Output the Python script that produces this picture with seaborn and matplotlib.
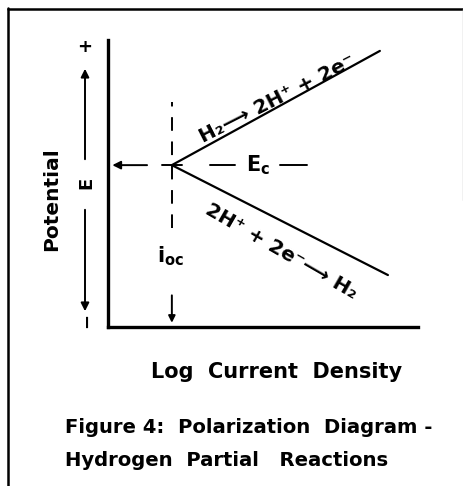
import numpy as np
import pandas as pd
import matplotlib
matplotlib.use("Agg")
import matplotlib.pyplot as plt
import seaborn as sns

# Polarization diagram values (arbitrary log current / potential units)
log_i_oc = 2.06
E_c = 5.64
anodic_log_i = [log_i_oc, 8.77]
anodic_E = [E_c, 9.62]
cathodic_log_i = [log_i_oc, 9.03]
cathodic_E = [E_c, 1.81]

anodic_label = "H₂⟶ 2H⁺ + 2e⁻"
cathodic_label = "2H⁺ + 2e⁻⟶ H₂"
x_title = "Log  Current  Density"
y_title = "Potential"
caption = ["Figure 4:  Polarization  Diagram -", "Hydrogen  Partial   Reactions"]

sns.set_style("white")
plt.rcParams["font.family"] = ["DejaVu Sans"]
plt.rcParams["mathtext.fontset"] = "dejavusans"
plt.rcParams["text.color"] = "black"

W, H = 464, 486
fig = plt.figure(figsize=(W / 100, H / 100), dpi=100)
fig.patch.set_facecolor("white")

# main plot area in pixel box: x 108..418, y 40..327
ax = fig.add_axes([108 / W, 1 - 327 / H, 310 / W, 287 / H])
ax.set_xlim(0, 10)
ax.set_ylim(0, 10)
ax.patch.set_alpha(0)

df = pd.concat([
    pd.DataFrame({"log_i": anodic_log_i, "E": anodic_E, "branch": "anodic"}),
    pd.DataFrame({"log_i": cathodic_log_i, "E": cathodic_E, "branch": "cathodic"}),
])
sns.lineplot(data=df, x="log_i", y="E", units="branch", estimator=None,
             color="black", linewidth=1.6, ax=ax, legend=False)

for s in ["top", "right"]:
    ax.spines[s].set_visible(False)
for s in ["left", "bottom"]:
    ax.spines[s].set_linewidth(2.4)
    ax.spines[s].set_color("black")
ax.set_xticks([])
ax.set_yticks([])
ax.set_xlabel("")
ax.set_ylabel("")

# dashed vertical at i_oc
ax.plot([log_i_oc, log_i_oc], [3.45, 7.84], color="black", lw=1.4,
        dashes=(7, 5.5))
ax.annotate("", xy=(log_i_oc, 0.05), xytext=(log_i_oc, 1.2),
            arrowprops=dict(arrowstyle="-|>", color="black", lw=1.4,
                            mutation_scale=10))
ax.text(log_i_oc - 0.05, 2.45, r"$\mathbf{i_{oc}}$", fontsize=15,
        ha="center", va="center")

# dashed horizontal at E_c
ax.plot([1.74, 2.39], [E_c, E_c], color="black", lw=1.4)
ax.annotate("", xy=(0.05, E_c), xytext=(1.35, E_c),
            arrowprops=dict(arrowstyle="-|>", color="black", lw=1.4,
                            mutation_scale=12))
ax.plot([3.29, 4.10], [E_c, E_c], color="black", lw=1.4)
ax.plot([5.55, 6.42], [E_c, E_c], color="black", lw=1.4)
ax.text(4.83, E_c, r"$\mathbf{E_c}$", fontsize=15, ha="center", va="center")

# branch labels
ax.text(5.45, 7.95, anodic_label, fontsize=14.5, fontweight="bold",
        rotation=27, rotation_mode="anchor", ha="center", va="center")
ax.text(5.6, 2.62, cathodic_label, fontsize=14.5, fontweight="bold",
        rotation=-30, rotation_mode="anchor", ha="center", va="center")

# overlay in pixel coordinates for frame and outside labels
ov = fig.add_axes([0, 0, 1, 1])
ov.set_xlim(0, W)
ov.set_ylim(H, 0)
ov.axis("off")

ov.plot([8, 8], [8, H], color="black", lw=1.8)
ov.plot([8, W], [9, 9], color="black", lw=1.8)
ov.plot([463, 463], [9, 200], color="#bbbbbb", lw=1.0)

ov.text(52, 199, y_title, fontsize=14.5, fontweight="bold", rotation=90,
        ha="center", va="center")
ov.text(85, 47, "+", fontsize=13, fontweight="bold", ha="center", va="center")
ov.annotate("", xy=(85, 66), xytext=(85, 162),
            arrowprops=dict(arrowstyle="-|>", color="black", lw=1.4,
                            mutation_scale=12))
ov.text(86, 183, "E", fontsize=13, fontweight="bold", rotation=90,
        ha="center", va="center")
ov.annotate("", xy=(85, 314), xytext=(85, 207),
            arrowprops=dict(arrowstyle="-|>", color="black", lw=1.4,
                            mutation_scale=12))
ov.text(87, 320, "−", fontsize=13, fontweight="bold", rotation=90,
        ha="center", va="center")

ov.text(277, 372, x_title, fontsize=15, fontweight="bold",
        ha="center", va="center")
ov.text(65, 427, caption[0], fontsize=14.1, fontweight="bold",
        ha="left", va="center")
ov.text(65, 460, caption[1], fontsize=14.1, fontweight="bold",
        ha="left", va="center")

fig.savefig("out.png", dpi=100)
